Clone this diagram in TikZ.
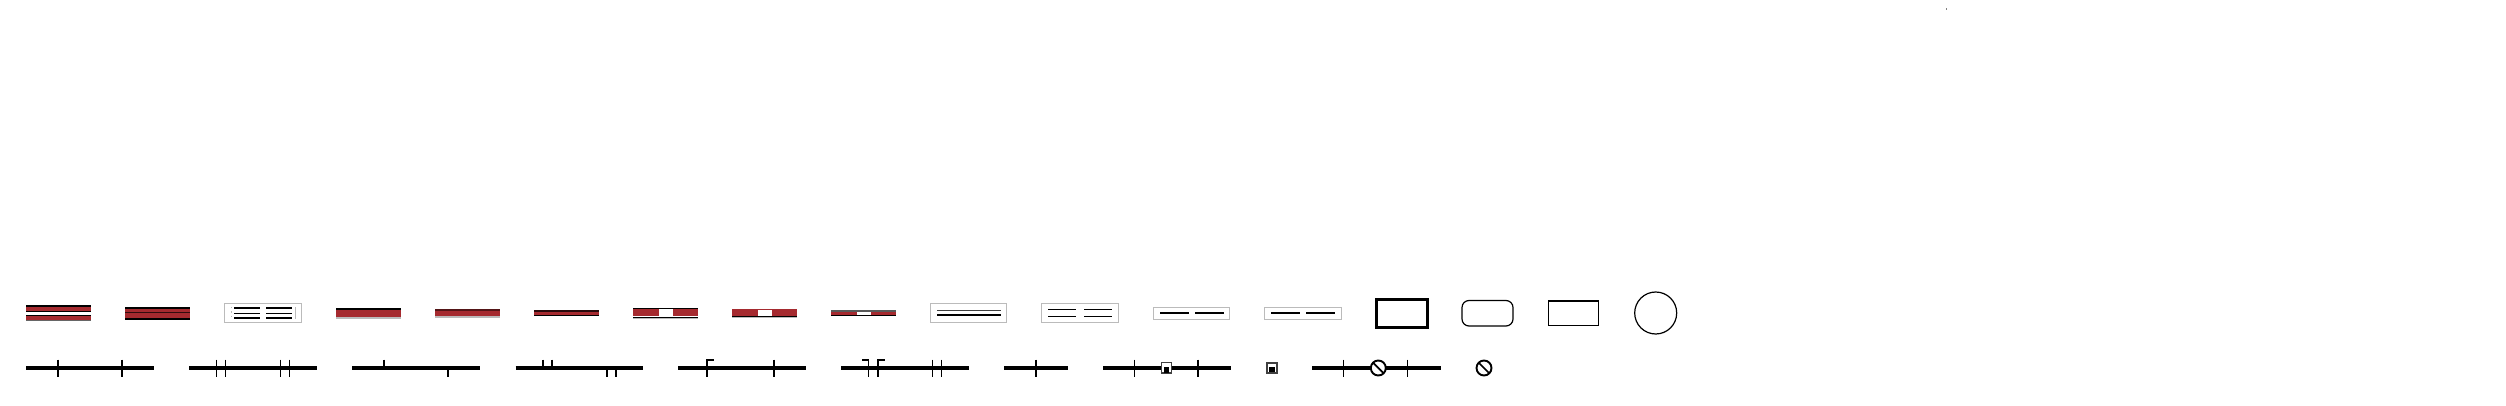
\documentclass[tikz,border=0pt]{standalone}
\definecolor{rd}{HTML}{A52A2F}
\definecolor{gb}{HTML}{BBBBBB}
\newcommand{\band}[4]{\fill[#4] (#1,#2) rectangle ++(64.5,#3);}
\newcommand{\whitegap}[3]{\fill[white] (#1,#2) rectangle ++(14,#3);}
\tikzset{
  x=1pt,y=-1pt,
  frame/.style={draw=gb,line width=1pt,fill=white},
  rail/.style={line width=3.2pt,black},
  tick/.style={line width=1.7pt,black},
  thin/.style={line width=1.2pt,black},
  thick2/.style={line width=2.2pt,black},
  symb/.style={line width=1.9pt,black,fill=white}
}
\begin{document}
\begin{tikzpicture}
\useasboundingbox (0,0) rectangle (2506,406);
\fill[white] (0,0) rectangle (2506,406);
\fill[gray] (1945.5,8) rectangle (1946.5,10);
% row 1
\band{26}{305}{16.3}{rd}
\band{26}{305}{2}{black}
\band{26}{310.5}{1.5}{black}
\band{26}{312}{2.5}{white}
\band{26}{314.5}{1.2}{black}
\band{26}{320}{1.3}{black!60}
\band{125}{307}{12.5}{rd}
\band{125}{307}{1.8}{black}
\band{125}{312.3}{.8}{black!70!rd}
\band{125}{318}{1.5}{black}
\draw[frame] (224.5,303.5) rectangle (301,322.5);
\foreach \y/\w in {308/1.3,313.5/.9,318/1.1} {
  \draw[black,line width=\w pt] (234,\y) -- (260,\y) (266,\y) -- (292,\y);
}
\draw[gb,line width=.8pt,dash pattern=on 1.5pt off 3pt] (231.5,306.5) -- (231.5,319.5);
\draw[gb,line width=.8pt] (295,307) -- (295,319);
\band{336}{308}{10.5}{rd}
\band{336}{308}{1.6}{black}
\band{336}{317}{1.5}{gb}
\band{435}{309}{8.5}{rd}
\band{435}{309}{2}{black!50!rd}
\band{435}{316.3}{1.2}{gb}
\band{534}{310}{6}{rd}
\band{534}{310}{1.7}{black!75!rd}
\band{534}{315.2}{.9}{black}
\band{633}{308}{10.3}{rd}
\band{633}{308}{1.1}{black}
\whitegap{659}{309}{7}
\band{633}{316}{.7}{white}
\band{633}{316.8}{1}{black}
\band{633}{317.8}{.5}{gb}
\band{732}{309}{8}{rd}
\whitegap{758}{310}{6}
\band{732}{316}{.8}{black}
\band{732}{316.8}{.6}{gb}
\band{831}{310}{6}{rd}
\band{831}{310}{1.6}{black!65}
\band{831}{315.2}{.9}{black}
\whitegap{857}{311.6}{3.6}
\draw[frame] (930.5,303.5) rectangle (1006.5,322.5);
\draw[black!75,line width=1.4pt] (937,310.5) -- (1001,310.5);
\draw[black,line width=1.2pt] (937,315) -- (1001,315);
\draw[frame] (1041.5,303.5) rectangle (1118,322.5);
\draw[thin] (1048,309.5) -- (1076,309.5) (1084,309.5) -- (1112,309.5);
\draw[thin] (1048,316.3) -- (1076,316.3) (1084,316.3) -- (1112,316.3);
\draw[frame] (1153.5,307.5) rectangle (1229.5,319);
\draw[thick2] (1160,313) -- (1189,313) (1195,313) -- (1224,313);
\draw[frame] (1264.5,307.5) rectangle (1341.5,319);
\draw[thick2] (1271,313) -- (1300,313) (1306,313) -- (1335,313);
\draw[black,line width=2.2pt] (1376.5,299.5) rectangle (1427.5,327.5);
\draw[black,rounded corners=7pt,line width=1.2pt] (1462,300.5) rectangle (1513,326);
\draw[thin] (1548.5,301) rectangle (1598.5,325.5);
\draw[black,line width=1.2pt] (1655.7,313) circle (21);
% row 2
\draw[rail] (26,368) -- (154,368);
\draw[tick] (58,359.5) -- (58,376.5) (122,359.5) -- (122,376.5);
\draw[rail] (189,368) -- (317,368);
\foreach \x in {216.5,225.5,280.5,289.5} \draw[tick] (\x,359.5) -- (\x,376.5);
\draw[rail] (352,368) -- (480,368);
\draw[tick] (384,359.5) -- (384,368) (448,368) -- (448,376.5);
\draw[rail] (515.5,368) -- (643,368);
\draw[tick] (542.7,359.5) -- (542.7,368) (551.7,359.5) -- (551.7,368);
\draw[tick] (606.7,368) -- (606.7,376.5) (615.7,368) -- (615.7,376.5);
\draw[rail] (678,368) -- (806,368);
\draw[tick] (706.7,376.5) -- (706.7,360) -- (714,360) (774,359.5) -- (774,376.5);
\draw[rail] (841,368) -- (969,368);
\draw[tick] (862,360) -- (868.5,360) -- (868.5,376.5);
\draw[tick] (884.5,360) -- (878,360) -- (878,376.5);
\draw[tick] (932.5,359.5) -- (932.5,376.5) (941.5,359.5) -- (941.5,376.5);
\draw[rail] (1004,368) -- (1068,368);
\draw[tick] (1036,359.5) -- (1036,376.5);
\draw[rail] (1103,368) -- (1231,368);
\draw[tick] (1134.5,359.5) -- (1134.5,376.5) (1198,359.5) -- (1198,376.5);
\draw[black!75,fill=white,line width=1.3pt] (1161.5,362.5) rectangle (1171.5,373);
\fill[black] (1164,367) rectangle (1169,373);
\draw[black!75,fill=white,line width=1.3pt] (1267,363) rectangle (1277,373);
\fill[black] (1269,367) rectangle (1275,372);
\draw[rail] (1312,368) -- (1441,368);
\draw[tick] (1343.5,359.5) -- (1343.5,376.5) (1407.5,359.5) -- (1407.5,376.5);
\draw[symb] (1378.3,368) circle (7.5);
\draw[black,line width=1.7pt] (1373,362.7) -- (1383.6,373.3);
\draw[symb] (1484,368) circle (7.5);
\draw[black,line width=1.7pt] (1478.7,362.7) -- (1489.3,373.3);
\end{tikzpicture}
\end{document}
